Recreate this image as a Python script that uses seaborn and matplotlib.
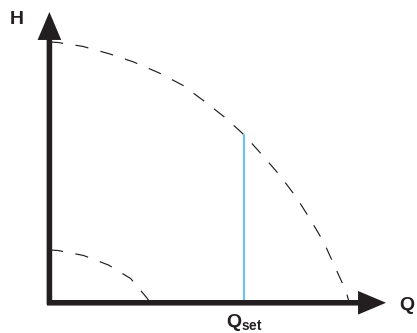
import matplotlib
matplotlib.use('Agg')
import matplotlib.pyplot as plt
import seaborn as sns

# pump curve at full speed (Q, H), normalised to 100
q_upper = [0, 2.7, 11, 20, 28, 36.5, 44.5, 51.5, 58.5, 65, 71, 76.8, 82.3, 87.1, 91.6, 95.3, 99, 100]
h_upper = [100, 99.8, 98.3, 95.4, 92.3, 88.1, 83.3, 77.3, 71, 64.2, 56.5, 48.8, 40.4, 31.7, 22.9, 13.5, 4.2, 0]

# pump curve at minimum speed
q_lower = [0, 2.7, 11.2, 19.6, 27, 32.3, 33.4]
h_lower = [20, 19.8, 17.9, 14.2, 9.0, 1.7, 0]

# set point
q_set = [65, 65]
h_set = [0, 64.2]

sns.set_style('white')
plt.rcParams['font.family'] = ['Liberation Sans', 'DejaVu Sans']
plt.rcParams['mathtext.fontset'] = 'custom'
plt.rcParams['mathtext.bf'] = 'Liberation Sans:bold'
plt.rcParams['mathtext.rm'] = 'Liberation Sans'
plt.rcParams['lines.scale_dashes'] = False

W, H = 417, 333
fig = plt.figure(figsize=(W / 100, H / 100), dpi=100)
ax = fig.add_axes([0, 0, 1, 1])

# pixel mapping: Q=0 at x=50, 2.99 px per unit; H=0 at y=302, 2.6 px per unit
ax.set_xlim(-50 / 2.99, (W - 50) / 2.99)
ax.set_ylim((302 - H) / 2.6, 302 / 2.6)
ax.axis('off')

ink = '#231f20'
dash = (0, (9.5, 9))
sns.lineplot(x=q_upper, y=h_upper, ax=ax, color=ink, lw=0.85, linestyle=dash, estimator=None)
sns.lineplot(x=q_lower, y=h_lower, ax=ax, color=ink, lw=0.85, linestyle=dash, estimator=None)
sns.lineplot(x=q_set, y=h_set, ax=ax, color='#6fc2ec', lw=1.6, estimator=None)

# axes with arrow heads
arrow = dict(arrowstyle='-|>,head_length=1.3,head_width=0.55', lw=4, color=ink,
             mutation_scale=10, shrinkA=0, shrinkB=0, capstyle='butt', joinstyle='miter')
ax.annotate('', xy=(-0.2, (302 - 12) / 2.6), xytext=(-0.2, -1.0), arrowprops=arrow)
ax.annotate('', xy=((386 - 50) / 2.99, -0.3), xytext=(-1.0, -0.3), arrowprops=arrow)

fig.text(17 / W, 1 - 19 / H, 'H', fontsize=14, fontweight='bold', color=ink,
         ha='center', va='center')
fig.text(399 / W, 1 - 305 / H, 'Q', fontsize=14, fontweight='bold', color=ink,
         ha='left', va='center')
fig.text(244 / W, 1 - 312 / H, r'$\mathbf{Q}_{\mathbf{set}}$', fontsize=14, color=ink,
         ha='center', va='top')

fig.savefig('out.png', dpi=100)
